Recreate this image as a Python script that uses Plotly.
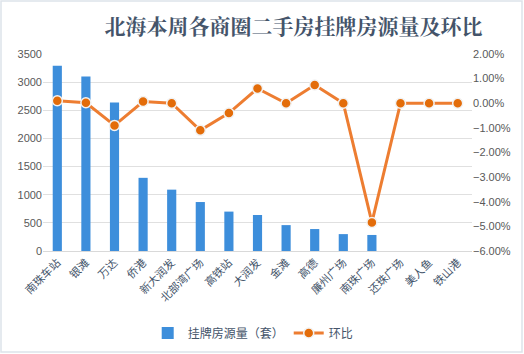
import plotly.graph_objects as go

categories = ["南珠车站", "银滩", "万达", "侨港", "新大润发", "北部湾广场", "高铁站", "大润发",
              "金滩", "高德", "廉州广场", "南珠广场", "还珠广场", "美人鱼", "铁山港"]
listings = [3290, 3100, 2640, 1300, 1090, 870, 700, 640, 460, 390, 300, 285, 0, 0, 0]
mom_pct = [0.10, 0.02, -0.90, 0.07, 0.0, -1.10, -0.40, 0.60, 0.0, 0.74, 0.0, -4.84, 0.0, 0.0, 0.0]
left_ticks = [0, 500, 1000, 1500, 2000, 2500, 3000, 3500]
right_ticks = [2, 1, 0, -1, -2, -3, -4, -5, -6]

mom = [v / 100 for v in mom_pct]

fig = go.Figure()
fig.add_trace(go.Bar(
    x=categories, y=listings, name="挂牌房源量（套）",
    marker=dict(color="#3D8EDB", line=dict(width=0)),
    yaxis="y",
))
fig.add_trace(go.Scatter(
    x=categories, y=mom, name="环比", mode="lines+markers",
    line=dict(color="#ED7D31", width=3),
    marker=dict(color="#E36C09", size=10, line=dict(color="#F2F2F2", width=1.5)),
    yaxis="y2",
))

L, R, T, B = 43, 52, 54, 103
W, H = 524, 354
pw, ph = W - L - R, H - T - B

tick_font = dict(family="Liberation Sans, Arial, sans-serif", size=11, color="#595959")
fig.update_layout(
    width=W, height=H,
    margin=dict(l=L, r=R, t=T, b=B, autoexpand=False),
    paper_bgcolor="white", plot_bgcolor="white",
    bargap=0.68,
    title=dict(text="<b>北海本周各商圈二手房挂牌房源量及环比</b>",
               x=0.56, xanchor="center", y=0.925, yanchor="middle",
               font=dict(family="Noto Serif CJK SC, Noto Sans CJK SC, serif", size=21, color="#44546A")),
    xaxis=dict(tickangle=-45, tickfont=dict(family="Noto Sans CJK SC", size=11, color="#44546A"),
               range=[-0.5, len(categories) - 0.5], autorange=False,
               showgrid=False, showline=True, linecolor="#D9D9D9", ticks="", automargin=False),
    yaxis=dict(range=[0, 3500], tickvals=left_ticks, tickfont=tick_font, automargin=False,
               gridcolor="#E0E0E0", showline=False, zeroline=False, ticks=""),
    yaxis2=dict(range=[-0.06, 0.02], tickvals=[v / 100 for v in right_ticks], automargin=False,
                tickformat=".2%", tickfont=tick_font, overlaying="y", side="right",
                showgrid=False, zeroline=False, ticks=""),
    legend=dict(orientation="h", x=0.49, xanchor="center", y=(H - B - 333) / ph, yanchor="middle",
                font=dict(family="Noto Sans CJK SC", size=12, color="#44546A"),
                itemwidth=30, traceorder="normal"),
    showlegend=True,
)
fig.add_shape(type="rect", xref="paper", yref="paper",
              x0=(1 - L) / pw, x1=(W - 2 - L) / pw,
              y0=(H - B - (H - 2)) / ph, y1=(H - B - 1) / ph,
              line=dict(color="#DDE3EA", width=1.5), layer="below")

fig.write_html("out.html")
